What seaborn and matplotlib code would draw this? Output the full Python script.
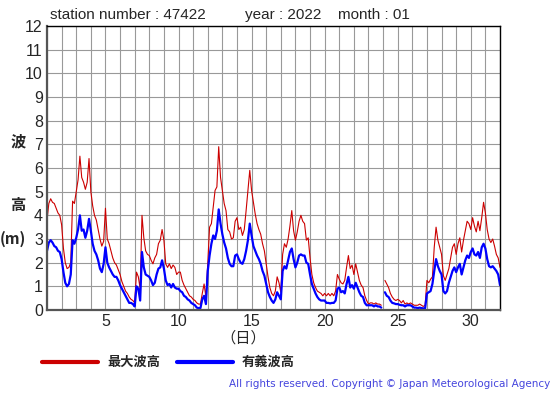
import numpy as np
import pandas as pd
import matplotlib

matplotlib.use("Agg")
import matplotlib.pyplot as plt
import seaborn as sns

# 3-hourly readings, 1 Jan 00h .. 1 Feb 00h (day 1.0 .. 32.0)
max_wave = [
    3.8, 4.5, 4.7, 4.55, 4.5, 4.3, 4.1, 4.0,          # 1
    3.6, 2.6, 2.0, 1.75, 1.8, 2.0, 4.6, 4.5,          # 2
    5.0, 5.5, 6.5, 5.6, 5.4, 5.1, 5.4, 6.4,           # 3
    5.0, 4.4, 4.0, 3.8, 3.4, 3.0, 2.7, 2.9,           # 4
    4.3, 3.0, 2.8, 2.5, 2.2, 2.0, 1.9, 1.7,           # 5
    1.5, 1.2, 1.0, 0.8, 0.7, 0.55, 0.45, 0.4,         # 6
    0.3, 1.6, 1.4, 0.9, 4.0, 3.05, 2.5, 2.35,         # 7
    2.3, 2.1, 1.95, 2.2, 2.35, 2.8, 2.95, 3.4,        # 8
    2.95, 1.95, 1.8, 1.95, 1.75, 1.9, 1.8, 1.5,       # 9
    1.6, 1.6, 1.25, 1.05, 0.9, 0.75, 0.6, 0.55,       # 10
    0.45, 0.4, 0.3, 0.25, 0.25, 0.7, 1.1, 0.55,       # 11
    1.95, 3.5, 3.65, 4.35, 5.05, 5.2, 6.9, 5.6,       # 12
    5.05, 4.5, 4.2, 3.4, 3.3, 3.0, 3.05, 3.75,        # 13
    3.9, 3.4, 3.5, 3.15, 3.4, 4.2, 5.05, 5.9,         # 14
    5.05, 4.55, 4.05, 3.65, 3.4, 3.2, 2.8, 2.5,       # 15
    1.95, 1.4, 0.95, 0.7, 0.6, 0.8, 1.4, 1.15,        # 16
    0.75, 2.35, 2.8, 2.65, 3.0, 3.55, 4.2, 3.35,      # 17
    2.95, 3.3, 3.75, 4.0, 3.75, 3.65, 2.95, 3.05,     # 18
    2.2, 1.5, 1.15, 0.95, 0.8, 0.75, 0.7, 0.6,        # 19
    0.7, 0.6, 0.7, 0.6, 0.7, 0.6, 0.8, 1.5,           # 20
    1.3, 1.15, 1.1, 1.25, 1.8, 2.3, 1.75, 1.9,        # 21
    1.5, 1.95, 1.6, 1.25, 1.05, 0.95, 0.6, 0.4,       # 22
    0.25, 0.3, 0.3, 0.25, 0.3, 0.25, 0.25, 0.2,       # 23
    np.nan, 1.25, 1.1, 0.95, 0.7, 0.55, 0.45, 0.4,    # 24
    0.45, 0.4, 0.3, 0.4, 0.25, 0.3, 0.25, 0.3,        # 25
    0.25, 0.2, 0.2, 0.2, 0.25, 0.2, 0.15, 0.2,        # 26
    1.25, 1.15, 1.3, 1.4, 2.65, 3.5, 2.95, 2.65,      # 27
    2.35, 1.45, 1.25, 1.5, 1.75, 2.2, 2.65, 2.8,      # 28
    2.35, 2.8, 3.05, 2.45, 2.95, 3.35, 3.75, 3.65,    # 29
    3.4, 3.9, 3.55, 3.3, 3.75, 3.35, 3.9, 4.55,       # 30
    4.1, 3.4, 3.0, 2.85, 3.0, 2.7, 2.35, 2.2,         # 31
    1.8,
]
sig_wave = [
    2.5, 2.85, 2.95, 2.85, 2.7, 2.65, 2.5, 2.45,
    2.15, 1.6, 1.15, 1.0, 1.1, 1.5, 2.95, 2.8,
    3.05, 3.4, 4.0, 3.35, 3.4, 3.05, 3.35, 3.85,
    3.35, 2.8, 2.5, 2.35, 2.1, 1.75, 1.6, 1.95,
    2.65, 2.0, 1.8, 1.65, 1.5, 1.4, 1.4, 1.25,
    1.05, 0.9, 0.75, 0.6, 0.45, 0.3, 0.3, 0.25,
    0.15, 1.0, 0.9, 0.4, 2.45, 1.8, 1.5, 1.45,
    1.4, 1.25, 1.05, 1.15, 1.5, 1.75, 1.8, 2.1,
    1.75, 1.25, 1.05, 1.1, 0.95, 1.1, 0.95, 0.9,
    0.9, 0.8, 0.75, 0.6, 0.55, 0.45, 0.4, 0.3,
    0.25, 0.2, 0.1, 0.08, 0.08, 0.45, 0.6, 0.25,
    1.65, 2.3, 2.8, 3.15, 3.0, 3.35, 4.25, 3.65,
    3.2, 2.85, 2.6, 2.2, 1.95, 1.85, 1.85, 2.3,
    2.35, 2.15, 2.0, 1.95, 2.15, 2.5, 2.95, 3.65,
    3.15, 2.7, 2.5, 2.3, 2.15, 1.95, 1.65, 1.45,
    1.1, 0.75, 0.55, 0.4, 0.3, 0.45, 0.75, 0.6,
    0.45, 1.65, 1.85, 1.75, 2.1, 2.45, 2.6, 2.15,
    1.8, 2.0, 2.3, 2.35, 2.3, 2.3, 2.0, 1.95,
    1.5, 1.1, 0.9, 0.7, 0.55, 0.45, 0.4, 0.4,
    0.4, 0.3, 0.3, 0.28, 0.3, 0.3, 0.4, 0.9,
    0.95, 0.75, 0.8, 0.7, 1.1, 1.4, 0.95, 1.05,
    0.9, 1.15, 0.95, 0.75, 0.6, 0.55, 0.3, 0.2,
    0.2, 0.2, 0.2, 0.15, 0.2, 0.15, 0.15, 0.1,
    np.nan, 0.75, 0.6, 0.55, 0.4, 0.3, 0.28, 0.25,
    0.25, 0.22, 0.2, 0.2, 0.15, 0.2, 0.2, 0.2,
    0.15, 0.1, 0.1, 0.08, 0.1, 0.08, 0.07, 0.07,
    0.7, 0.75, 0.8, 1.1, 1.65, 2.15, 1.85, 1.65,
    1.5, 0.8, 0.7, 0.8, 1.15, 1.4, 1.65, 1.8,
    1.6, 1.8, 1.95, 1.5, 1.8, 2.1, 2.3, 2.2,
    2.45, 2.6, 2.35, 2.3, 2.45, 2.2, 2.65, 2.8,
    2.6, 2.15, 1.85, 1.8, 1.85, 1.75, 1.65, 1.5,
    1.05,
]
days = np.arange(len(max_wave)) / 8 + 1
day_ticks = list(range(1, 33))
height_ticks = list(range(0, 13))

sns.set_style("white")
plt.rcParams["font.family"] = ["Liberation Sans", "Noto Sans CJK JP"]

df = pd.DataFrame({"day": days, "hmax": max_wave, "hsig": sig_wave})
df["seg"] = (df["day"] > 24).astype(int)  # data gap near day 24
df = df.dropna()

fig = plt.figure(figsize=(5.55, 3.95), dpi=100)
ax = fig.add_axes([0.0847, 0.2152, 0.8162, 0.719])

sns.lineplot(data=df, x="day", y="hmax", units="seg", estimator=None,
             color="#cc0000", linewidth=0.8, ax=ax, label="最大波高")
sns.lineplot(data=df, x="day", y="hsig", units="seg", estimator=None,
             color="#0000ff", linewidth=1.6, ax=ax, label="有義波高")

ax.set_xlim(1, 32)
ax.set_ylim(0, 12)
ax.set_xticks(day_ticks)
ax.set_xticklabels([str(d) if d % 5 == 0 else "" for d in day_ticks])
ax.set_yticks(height_ticks)
ax.grid(True, color="#999999", linewidth=0.8)
ax.tick_params(length=0, labelsize=11.5, pad=3)
ax.set_xlabel("")
ax.set_ylabel("")
for side in ["top", "right"]:
    ax.spines[side].set_color("black")
    ax.spines[side].set_linewidth(1.0)
for side in ["left", "bottom"]:
    ax.spines[side].set_color("#555555")
    ax.spines[side].set_linewidth(1.6)

# one legend entry per series (units= gives one line per segment)
handles, labels = ax.get_legend_handles_labels()
ax.get_legend().remove()
uniq = dict(zip(labels, handles))
leg = fig.legend(list(uniq.values()), list(uniq.keys()), ncol=2, loc="center left",
                 bbox_to_anchor=(0.055, 1 - 363 / 395), frameon=False,
                 prop={"weight": "bold", "size": 9.5},
                 handlelength=4.2, handletextpad=0.7, columnspacing=1.3)
for line in leg.get_lines():
    line.set_linewidth(3.0)

fig.text(50 / 555, 1 - 15 / 395, "station number : 47422", fontsize=11, va="center")
fig.text(245 / 555, 1 - 15 / 395, "year : 2022", fontsize=11, va="center")
fig.text(338 / 555, 1 - 15 / 395, "month : 01", fontsize=11, va="center")

fig.text(18 / 555, 1 - 142 / 395, "波", fontsize=11, weight="bold", ha="center", va="center")
fig.text(18 / 555, 1 - 206 / 395, "高", fontsize=11, weight="bold", ha="center", va="center")
fig.text(13 / 555, 1 - 239 / 395, "(m)", fontsize=11, weight="bold", ha="center",
         va="center", family="Noto Sans CJK JP")
fig.text(243 / 555, 1 - 338 / 395, "（日）", fontsize=11, ha="center", va="center")

fig.text(550 / 555, 1 - 384 / 395,
         "All rights reserved. Copyright © Japan Meteorological Agency",
         fontsize=7.5, color="#4444dd", ha="right", va="center",
         family="DejaVu Sans")

fig.savefig("out.png", dpi=100)
